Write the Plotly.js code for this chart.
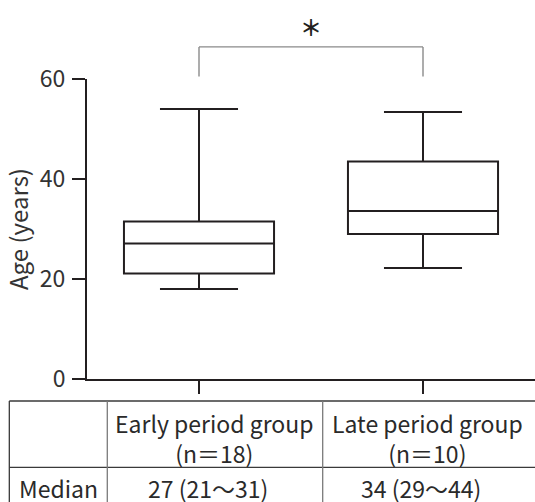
<!DOCTYPE html>
<html>
<head>
<meta charset="utf-8">
<script src="https://cdn.plot.ly/plotly-3.0.1.min.js"></script>
<style>
  html, body { margin: 0; padding: 0; background: #ffffff; }
  #chart { width: 535px; height: 502px; }
</style>
</head>
<body>
<div id="chart"></div>
<script>
// ---- data ----
var groups = ['Early period group', 'Late period group'];
var nLabels = ['(n＝18)', '(n＝10)'];
var lowerWhisker = [18.0, 22.2];
var q1Values = [21.1, 29.0];
var medianValues = [27.1, 33.6];
var q3Values = [31.5, 43.5];
var upperWhisker = [54.0, 53.4];
var medianRowLabel = 'Median';
var medianTexts = ['27 (21～31)', '34 (29～44)'];
var yTickValues = [0, 20, 40, 60];
var significanceMark = '＊';

var ink = '#231f20';
var cjk = '"Noto Sans CJK JP", "Noto Sans", sans-serif';

var boxTrace = {
  type: 'box',
  x: groups,
  q1: q1Values,
  median: medianValues,
  q3: q3Values,
  lowerfence: lowerWhisker,
  upperfence: upperWhisker,
  boxpoints: false,
  width: 0.67,
  whiskerwidth: 0.52,
  fillcolor: '#ffffff',
  line: { color: ink, width: 2 },
  hoverinfo: 'skip',
  showlegend: false
};

var shapes = [];
var annotations = [];

// significance bracket between the two groups
var bracketLine = { color: '#8a8a8a', width: 1.4 };
shapes.push({ type: 'line', xref: 'x', yref: 'paper', x0: 0, x1: 0, y0: 1.008, y1: 1.107, line: bracketLine });
shapes.push({ type: 'line', xref: 'x', yref: 'paper', x0: 1, x1: 1, y0: 1.008, y1: 1.107, line: bracketLine });
shapes.push({ type: 'line', xref: 'x', yref: 'paper', x0: 0, x1: 1, y0: 1.107, y1: 1.107, line: bracketLine });
annotations.push({ xref: 'x', yref: 'paper', x: 0.5, y: 1.178, text: significanceMark,
  showarrow: false, xanchor: 'center', yanchor: 'middle',
  font: { family: cjk, size: 22, weight: 700, color: ink } });

// table below the plot
var tTop = -0.0733, tMid = -0.2943, tBot = -0.45;
var xLeft = -0.1734, xCol1 = 0.0453, xCol2 = 0.5261, xRight = 1.0;
var dark = { color: '#3a3a3a', width: 1.3 };
var grey = { color: '#7a7a7a', width: 1.3 };
shapes.push({ type: 'line', xref: 'paper', yref: 'paper', x0: xLeft, x1: xRight, y0: tTop, y1: tTop, line: dark });
shapes.push({ type: 'line', xref: 'paper', yref: 'paper', x0: xLeft, x1: xRight, y0: tMid, y1: tMid, line: dark });
shapes.push({ type: 'line', xref: 'paper', yref: 'paper', x0: xLeft, x1: xLeft, y0: tTop, y1: tBot, line: dark });
shapes.push({ type: 'line', xref: 'paper', yref: 'paper', x0: xCol1, x1: xCol1, y0: tTop, y1: tBot, line: grey });
shapes.push({ type: 'line', xref: 'paper', yref: 'paper', x0: xCol2, x1: xCol2, y0: tTop, y1: tBot, line: grey });

var colCenters = [0.2857, 0.7609];
var tableFont = { family: cjk, size: 23, color: '#2a2a2a' };
for (var i = 0; i < groups.length; i++) {
  annotations.push({ xref: 'paper', yref: 'paper', x: colCenters[i], y: -0.1957,
    text: groups[i] + '<br>' + nLabels[i], showarrow: false, align: 'center',
    xanchor: 'center', yanchor: 'middle', font: tableFont });
  annotations.push({ xref: 'paper', yref: 'paper', x: colCenters[i] - 0.015, y: -0.3633,
    text: medianTexts[i], showarrow: false,
    xanchor: 'center', yanchor: 'middle', font: tableFont });
}
annotations.push({ xref: 'paper', yref: 'paper', x: (xLeft + xCol1) / 2, y: -0.3633,
  text: medianRowLabel, showarrow: false, xanchor: 'center', yanchor: 'middle', font: tableFont });

var layout = {
  width: 535,
  height: 502,
  margin: { l: 87, r: 0, t: 79, b: 123, pad: 0 },
  paper_bgcolor: '#ffffff',
  plot_bgcolor: '#ffffff',
  showlegend: false,
  xaxis: {
    type: 'category',
    range: [-0.5, 1.5],
    showticklabels: false,
    showline: true, linecolor: ink, linewidth: 2,
    ticks: 'outside', ticklen: 13, tickwidth: 2, tickcolor: ink,
    showgrid: false, zeroline: false, fixedrange: true
  },
  yaxis: {
    range: [0, 60],
    tickmode: 'array', tickvals: yTickValues, ticktext: yTickValues.map(String),
    showline: true, linecolor: ink, linewidth: 2,
    ticks: 'outside', ticklen: 13, tickwidth: 2, tickcolor: ink,
    ticklabelstandoff: 2,
    tickfont: { family: cjk, size: 23, color: '#333333' },
    title: { text: 'Age (years)', standoff: 5,
      font: { family: cjk, size: 24, color: '#333333' } },
    showgrid: false, zeroline: false, fixedrange: true
  },
  shapes: shapes,
  annotations: annotations
};

Plotly.newPlot('chart', [boxTrace], layout, { displayModeBar: false, staticPlot: true });
</script>
</body>
</html>
